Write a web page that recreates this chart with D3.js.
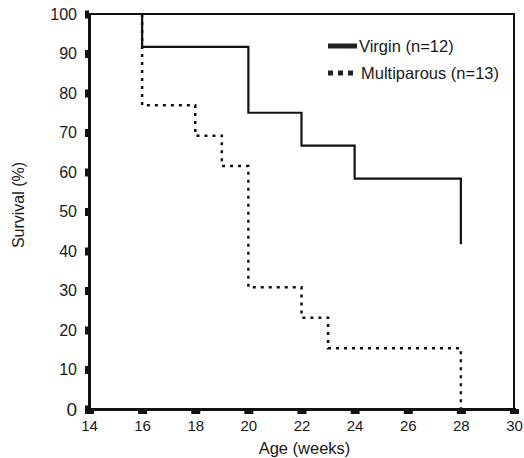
<!DOCTYPE html>
<html>
<head>
<meta charset="utf-8">
<title>Survival</title>
<script src="https://d3js.org/d3.v7.min.js"></script>
<style>
  body { margin: 0; background: #fff; font-family: "Liberation Sans", Arial, Helvetica, sans-serif; }
  svg text { fill: #1a1a1a; }
</style>
</head>
<body>
<div id="chart"></div>
<script>
// Kaplan-Meier steps
const virginWeeks = [16, 16, 20, 22, 24, 28];
const virginSurvival = [100, 91.7, 75, 66.7, 58.3, 41.7];
const multiWeeks = [16, 16, 18, 19, 20, 22, 23, 28];
const multiSurvival = [100, 76.9, 69.2, 61.5, 30.8, 23.1, 15.4, 0];
const xTicks = [14, 16, 18, 20, 22, 24, 26, 28, 30];
const yTicks = [0, 10, 20, 30, 40, 50, 60, 70, 80, 90, 100];
const seriesNames = ["Virgin (n=12)", "Multiparous (n=13)"];

const width = 524, height = 458;
const margin = { top: 14, right: 10, bottom: 49, left: 89 };

const svg = d3.select("#chart").append("svg")
  .attr("width", width)
  .attr("height", height);

const x = d3.scaleLinear().domain([14, 30]).range([margin.left, width - margin.right]);
const y = d3.scaleLinear().domain([0, 100]).range([height - margin.bottom, margin.top]);

// frame
svg.append("rect")
  .attr("x", x(14)).attr("y", y(100))
  .attr("width", x(30) - x(14)).attr("height", y(0) - y(100))
  .attr("fill", "none").attr("stroke", "#111").attr("stroke-width", 2);

// axes: short fat ticks
const xAxis = svg.append("g")
  .attr("transform", `translate(0,${y(0)})`)
  .call(d3.axisBottom(x).tickValues(xTicks).tickSize(5).tickPadding(6));
xAxis.select(".domain").attr("stroke", "#111").attr("stroke-width", 3);
xAxis.selectAll(".tick line").attr("stroke", "#111").attr("stroke-width", 9);
xAxis.selectAll(".tick text").attr("font-size", 15).attr("font-family", "Liberation Sans, Arial, sans-serif");

const yAxis = svg.append("g")
  .attr("transform", `translate(${x(14)},0)`)
  .call(d3.axisLeft(y).tickValues(yTicks).tickSize(4).tickPadding(8));
yAxis.select(".domain").attr("stroke", "#111").attr("stroke-width", 3);
yAxis.selectAll(".tick line").attr("stroke", "#111").attr("stroke-width", 8);
yAxis.selectAll(".tick text")
  .attr("font-size", d => d === 0 ? 19 : 16)
  .attr("font-family", "Liberation Sans, Arial, sans-serif");

// survival curves
const line = d3.line()
  .x(d => x(d[0]))
  .y(d => y(d[1]))
  .curve(d3.curveStepAfter);

svg.append("path")
  .datum(multiWeeks.map((w, i) => [w, multiSurvival[i]]))
  .attr("d", line)
  .attr("fill", "none")
  .attr("stroke", "#111")
  .attr("stroke-width", 2.5)
  .attr("stroke-dasharray", "3,5");

svg.append("path")
  .datum(virginWeeks.map((w, i) => [w, virginSurvival[i]]))
  .attr("d", line)
  .attr("fill", "none")
  .attr("stroke", "#111")
  .attr("stroke-width", 2.2);

// legend
const legend = svg.append("g").attr("transform", "translate(328,46)");
legend.append("line")
  .attr("x1", 0).attr("x2", 29).attr("y1", 0).attr("y2", 0)
  .attr("stroke", "#222").attr("stroke-width", 5);
legend.append("line")
  .attr("x1", 0).attr("x2", 30).attr("y1", 27).attr("y2", 27)
  .attr("stroke", "#222").attr("stroke-width", 5)
  .attr("stroke-dasharray", "5,5");
legend.selectAll("text.lbl")
  .data(seriesNames)
  .join("text")
  .attr("class", "lbl")
  .attr("x", (d, i) => i === 0 ? 31 : 33)
  .attr("y", (d, i) => i * 27)
  .attr("dy", "0.35em")
  .attr("font-size", 16.5)
  .text(d => d);

// axis titles
svg.append("text")
  .attr("x", (x(14) + x(30)) / 2 + 3)
  .attr("y", 454)
  .attr("text-anchor", "middle")
  .attr("font-size", 16.5)
  .text("Age (weeks)");

svg.append("text")
  .attr("transform", `translate(24,205) rotate(-90)`)
  .attr("text-anchor", "middle")
  .attr("font-size", 16)
  .text("Survival (%)");
</script>
</body>
</html>
